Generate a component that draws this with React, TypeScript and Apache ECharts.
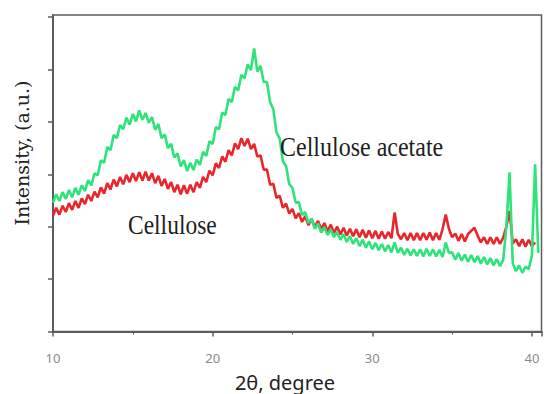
import React, { useEffect, useRef } from "react";
import * as echarts from "echarts";

// 2θ sampling of both diffractograms: starts at 10°, one reading every 0.2°
const TWO_THETA_START = 10;
const TWO_THETA_STEP = 0.2;

// Cellulose acetate intensity (a.u.), 10.0° … 40.4°
const acetateIntensity = [
  246, 262, 249, 266, 253, 270, 256, 274, 261, 279,
  268, 289, 279, 302, 298, 327, 322, 352, 346, 375,
  369, 394, 386, 408, 395, 415, 401, 422, 404, 417,
  398, 409, 385, 396, 369, 376, 350, 358, 332, 340,
  315, 327, 306, 322, 308, 328, 318, 343, 335, 363,
  358, 390, 386, 418, 413, 444, 438, 467, 460, 490,
  483, 510, 499, 540, 496, 507, 476, 476, 438, 424,
  380, 368, 325, 316, 281, 274, 246, 247, 222, 228,
  207, 215, 196, 206, 189, 199, 184, 195, 180, 190,
  175, 186, 171, 182, 167, 178, 163, 175, 160, 172,
  157, 169, 155, 167, 153, 165, 151, 170, 150, 160,
  146, 158, 145, 157, 144, 157, 143, 158, 144, 157,
  143, 156, 142, 170, 150, 151, 137, 150, 135, 147,
  133, 146, 132, 144, 130, 142, 128, 140, 126, 138,
  125, 136, 200, 304, 130, 115, 126, 112, 124, 119,
  145, 319, 150,
];

// Cellulose intensity (a.u.), 10.0° … 40.2°
const celluloseIntensity = [
  221, 236, 223, 240, 228, 245, 232, 249, 236, 254,
  243, 261, 249, 267, 256, 275, 263, 283, 271, 290,
  277, 295, 281, 299, 285, 302, 287, 304, 288, 305,
  288, 302, 283, 297, 278, 291, 272, 285, 266, 280,
  262, 279, 263, 280, 266, 285, 274, 295, 285, 307,
  298, 321, 312, 334, 324, 346, 336, 359, 348, 369,
  354, 368, 348, 358, 334, 336, 309, 309, 280, 282,
  255, 259, 236, 244, 225, 234, 216, 226, 209, 220,
  203, 215, 199, 211, 195, 207, 191, 204, 188, 200,
  185, 198, 183, 196, 182, 195, 180, 194, 179, 193,
  178, 192, 177, 191, 177, 190, 178, 227, 186, 176,
  188, 174, 188, 174, 188, 174, 188, 175, 189, 174,
  188, 175, 195, 223, 196, 180, 187, 173, 186, 172,
  186, 192, 198, 183, 170, 180, 167, 180, 167, 180,
  167, 179, 200, 230, 168, 176, 163, 176, 162, 175,
  163, 170,
];

const X_MIN = 10;
const X_MAX = 40.6;
const X_INTERVAL = 10;
const X_TICK_LABELS = [10, 20, 30, 40];
const Y_MIN = 0;
const Y_MAX = 604;
const Y_INTERVAL = 100;
const Y_TICKS = [0, 100, 200, 300, 400, 500, 600];

const AXIS_TITLE_X = "2θ, degree";
const AXIS_TITLE_Y = "Intensity, (a.u.)";
const LABEL_ACETATE = "Cellulose acetate";
const LABEL_CELLULOSE = "Cellulose";

const toPairs = (values: number[]) =>
  values.map((v, i) => [+(TWO_THETA_START + i * TWO_THETA_STEP).toFixed(1), v]);

export default function App() {
  const ref = useRef<HTMLDivElement>(null);

  useEffect(() => {
    if (!ref.current) return;
    const chart = echarts.init(ref.current, undefined, { renderer: "svg" });
    const axisColor = "#5c5c5c";

    chart.setOption({
      animation: false,
      backgroundColor: "#ffffff",
      grid: {
        left: 53,
        right: 2.5,
        top: 15,
        bottom: 62.5,
        show: true,
        borderColor: axisColor,
        borderWidth: 1.5,
        backgroundColor: "transparent",
      },
      xAxis: {
        type: "value",
        min: X_MIN,
        max: X_MAX,
        interval: X_INTERVAL,
        axisLine: { show: true, onZero: false, lineStyle: { color: axisColor, width: 2 } },
        axisTick: { show: true, inside: false, length: 5, lineStyle: { color: axisColor, width: 1.5 } },
        minorTick: { show: true, splitNumber: 2, length: 3, lineStyle: { color: axisColor, width: 1.2 } },
        splitLine: { show: false },
        minorSplitLine: { show: false },
        axisLabel: {
          show: true,
          margin: 20,
          color: "#8a8a8a",
          fontSize: 13,
          fontFamily: "Noto Sans",
          customValues: X_TICK_LABELS,
          formatter: (v: number) => String(Math.round(v)),
        },
      },
      yAxis: {
        type: "value",
        min: Y_MIN,
        max: Y_MAX,
        interval: Y_INTERVAL,
        axisLine: { show: true, lineStyle: { color: axisColor, width: 2 } },
        axisTick: {
          show: true,
          inside: false,
          length: 5,
          customValues: Y_TICKS,
          lineStyle: { color: axisColor, width: 1.5 },
        },
        minorTick: { show: false },
        splitLine: { show: false },
        minorSplitLine: { show: false },
        axisLabel: { show: false },
      },
      series: [
        {
          name: LABEL_CELLULOSE,
          type: "line",
          data: toPairs(celluloseIntensity),
          showSymbol: false,
          symbol: "none",
          lineStyle: { color: "#e8262c", width: 2.6 },
          z: 2,
        },
        {
          name: LABEL_ACETATE,
          type: "line",
          data: toPairs(acetateIntensity),
          showSymbol: false,
          symbol: "none",
          lineStyle: { color: "#2ee37a", width: 2.6 },
          z: 3,
        },
      ],
      graphic: [
        {
          type: "text",
          x: 280,
          y: 147,
          scaleY: 1.15,
          z: 10,
          style: {
            text: LABEL_ACETATE,
            x: 0,
            y: 0,
            fill: "#1e1e1e",
            font: '24px "Liberation Serif"',
            textAlign: "left",
            textVerticalAlign: "middle",
          },
        },
        {
          type: "text",
          x: 128,
          y: 224,
          scaleY: 1.15,
          z: 10,
          style: {
            text: LABEL_CELLULOSE,
            x: 0,
            y: 0,
            fill: "#1e1e1e",
            font: '23.5px "Liberation Serif"',
            textAlign: "left",
            textVerticalAlign: "middle",
          },
        },
        {
          type: "text",
          x: 22,
          y: 153,
          rotation: Math.PI / 2,
          z: 10,
          style: {
            text: AXIS_TITLE_Y,
            x: 0,
            y: 0,
            fill: "#222222",
            font: '19px "DejaVu Serif"',
            textAlign: "center",
            textVerticalAlign: "middle",
          },
        },
        {
          type: "text",
          x: 285,
          y: 382,
          z: 10,
          style: {
            text: AXIS_TITLE_X,
            x: 0,
            y: 0,
            fill: "#222222",
            font: '20px "Noto Sans"',
            textAlign: "center",
            textVerticalAlign: "middle",
          },
        },
      ],
    });

    return () => chart.dispose();
  }, []);

  return (
    <div
      ref={ref}
      style={{ position: "fixed", left: 0, top: 0, width: 544, height: 394 }}
    />
  );
}
